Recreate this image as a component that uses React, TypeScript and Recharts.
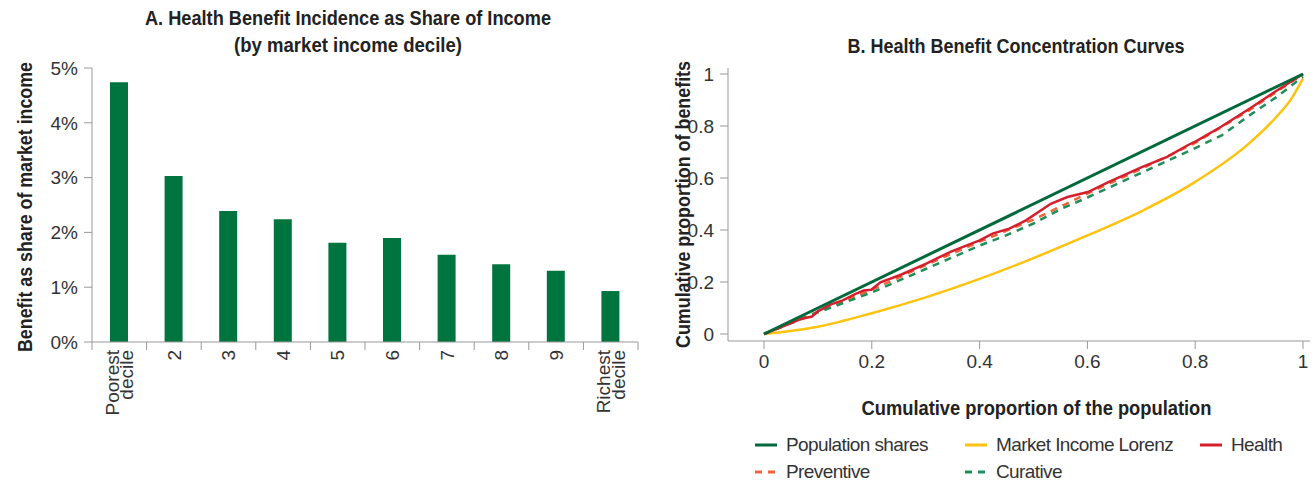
import { BarChart, Bar, LineChart, Line, XAxis, YAxis, Legend } from 'recharts';

const FONT = "'Liberation Sans', Arial, sans-serif";
const BOLD_FONT = "'Liberation Sans', Arial, sans-serif";
const TEXT = '#333';
const DARK = '#222';
const AXIS = '#999';

// Panel A
const deciles = ['Poorest decile', '2', '3', '4', '5', '6', '7', '8', '9', 'Richest decile'];
const benefitShare = [4.74, 3.03, 2.39, 2.24, 1.81, 1.9, 1.59, 1.42, 1.3, 0.93];
const pctTicks = [0, 1, 2, 3, 4, 5];

// Panel B
const propTicks = [0, 0.2, 0.4, 0.6, 0.8, 1];
const popX = [0, 1];
const popY = [0, 1];
const lorenzX = [0, 0.1, 0.2, 0.3, 0.4, 0.5, 0.6, 0.7, 0.8, 0.9, 0.948, 0.98, 1];
const lorenzY = [0, 0.028, 0.08, 0.141, 0.212, 0.292, 0.379, 0.472, 0.585, 0.733, 0.829, 0.91, 0.983];
const healthX = [0, 0.039, 0.069, 0.089, 0.1, 0.123, 0.146, 0.17, 0.185, 0.199, 0.216, 0.254, 0.3, 0.347, 0.4, 0.424, 0.455, 0.486, 0.532, 0.563, 0.601, 0.64, 0.702, 0.748, 0.786, 0.802, 0.848, 0.902, 0.948, 1];
const healthY = [0, 0.032, 0.058, 0.067, 0.087, 0.113, 0.129, 0.154, 0.167, 0.17, 0.199, 0.228, 0.27, 0.317, 0.36, 0.386, 0.405, 0.437, 0.501, 0.527, 0.546, 0.585, 0.643, 0.681, 0.726, 0.742, 0.797, 0.868, 0.932, 1];
const preventiveX = [0, 0.1, 0.2, 0.3, 0.4, 0.5, 0.6, 0.7, 0.8, 0.9, 1];
const preventiveY = [0, 0.086, 0.17, 0.265, 0.355, 0.44, 0.54, 0.635, 0.735, 0.86, 1];
const curativeX = [0, 0.1, 0.2, 0.3, 0.4, 0.45, 0.5, 0.55, 0.6, 0.7, 0.8, 0.85, 0.9, 0.95, 1];
const curativeY = [0, 0.083, 0.16, 0.25, 0.34, 0.38, 0.425, 0.48, 0.525, 0.62, 0.715, 0.765, 0.84, 0.91, 0.99];

const barData = deciles.map((d, i) => ({ decile: d, share: benefitShare[i] }));
const toPts = (xs: number[], ys: number[]) => xs.map((p, i) => ({ p, v: ys[i] }));
const popData = toPts(popX, popY);
const lorenzData = toPts(lorenzX, lorenzY);
const healthData = toPts(healthX, healthY);
const preventiveData = toPts(preventiveX, preventiveY);
const curativeData = toPts(curativeX, curativeY);

const legendItems = [
  { name: 'Population shares', color: '#00693C', dash: false },
  { name: 'Market Income Lorenz', color: '#FDC30F', dash: false },
  { name: 'Health', color: '#D41F2D', dash: false },
  { name: 'Preventive', color: '#F0643C', dash: true },
  { name: 'Curative', color: '#1E8F5B', dash: true },
];

const tickStyle = { fill: TEXT, fontSize: 19, fontFamily: FONT };

function DecileTick({ x, y, payload, index }: any) {
  const half = payload.offset || 27.3;
  const lines = String(payload.value).split(' ');
  const start = 0.35 - ((lines.length - 1) * 0.78) / 2;
  return (
    <g transform={`translate(${x},${y})`}>
      <line x1={-half} x2={-half} y1={0} y2={8} stroke={AXIS} />
      {index === deciles.length - 1 && <line x1={half} x2={half} y1={0} y2={8} stroke={AXIS} />}
      <text transform="rotate(-90)" x={-8} y={0} textAnchor="end" fill={TEXT} fontSize={19} fontFamily={FONT}>
        {lines.map((l, i) => (
          <tspan key={i} x={-8} dy={`${i === 0 ? start : 0.78}em`}>{l}</tspan>
        ))}
      </text>
    </g>
  );
}

function BoldText({ x, y, len, text, rotate }: { x: number; y: number; len: number; text: string; rotate?: boolean }) {
  return (
    <text x={x} y={y} transform={rotate ? `rotate(-90, ${x}, ${y})` : undefined} textAnchor="middle" dominantBaseline="central"
      textLength={len} lengthAdjust="spacingAndGlyphs"
      fill={DARK} fontSize={20} fontWeight="bold" fontFamily={BOLD_FONT}>{text}</text>
  );
}

function LegendBox() {
  return (
    <div style={{ display: 'grid', gridTemplateColumns: '210px 235px 110px', rowGap: 1, fontFamily: FONT, fontSize: 19, color: TEXT }}>
      {legendItems.map((it) => (
        <div key={it.name} style={{ display: 'flex', alignItems: 'center', height: 26 }}>
          <svg width={22} height={4}>
            <line x1={0} x2={22} y1={2} y2={2} stroke={it.color} strokeWidth={3} strokeDasharray={it.dash ? '7 6' : undefined} />
          </svg>
          <span style={{ marginLeft: 9, letterSpacing: -0.6 }}>{it.name}</span>
        </div>
      ))}
    </div>
  );
}

export default function App() {
  return (
    <div style={{ position: 'absolute', left: 0, top: 0, width: 1312, height: 487, background: '#fff', fontFamily: FONT }}>
      <div style={{ position: 'absolute', left: 0, top: 0 }}>
        <BarChart width={660} height={487} data={barData} margin={{ top: 68, right: 22, bottom: 65, left: 0 }}>
          <XAxis dataKey="decile" height={80} interval={0} tickSize={0} tickMargin={0} tickLine={false}
            axisLine={{ stroke: AXIS }} tick={<DecileTick />} />
          <YAxis width={92} domain={[0, 5]} ticks={pctTicks} tickFormatter={(v) => `${v}%`} tickSize={8} tickMargin={6}
            axisLine={{ stroke: AXIS }} tickLine={{ stroke: AXIS }} tick={tickStyle}
            label={{ content: (p: any) => <BoldText x={25} y={p.viewBox.y + p.viewBox.height / 2 + 2} len={290} rotate text="Benefit as share of market income" /> }} />
          <Bar dataKey="share" fill="#00743F" barSize={18} isAnimationActive={false} />
        </BarChart>
      </div>

      <div style={{ position: 'absolute', left: 660, top: 0 }}>
        <LineChart width={652} height={487} margin={{ top: 68, right: 2, bottom: 106, left: 0 }}>
          <XAxis dataKey="p" type="number" domain={[0, 1]} ticks={propTicks} height={40} padding={{ left: 36, right: 7 }}
            tickSize={8} tickMargin={6} axisLine={{ stroke: AXIS }} tickLine={{ stroke: AXIS }} tick={tickStyle}
            allowDuplicatedCategory={false}
            label={{ content: (p: any) => (
              <BoldText x={p.viewBox.x + 36 + (p.viewBox.width - 43) / 2 + 3} y={p.viewBox.y + 67} len={350} text="Cumulative proportion of the population" />
            ) }} />
          <YAxis dataKey="v" type="number" width={68} domain={[0, 1]} ticks={propTicks} padding={{ top: 6, bottom: 7 }}
            tickSize={8} tickMargin={6} axisLine={{ stroke: AXIS }} tickLine={{ stroke: AXIS }} tick={tickStyle}
            label={{ content: (p: any) => <BoldText x={23} y={p.viewBox.y + p.viewBox.height / 2} len={287} rotate text="Cumulative proportion of benefits" /> }} />
          <Legend layout="horizontal" verticalAlign="middle" align="center" wrapperStyle={{ left: 95, top: 432, width: 560 }} content={<LegendBox />} />
          <Line data={lorenzData} dataKey="v" name="Market Income Lorenz" type="monotone" stroke="#FDC30F" strokeWidth={2.5} dot={false} activeDot={false} isAnimationActive={false} />
          <Line data={preventiveData} dataKey="v" name="Preventive" type="linear" stroke="#F0643C" strokeWidth={2.5} strokeDasharray="7 6" dot={false} activeDot={false} isAnimationActive={false} />
          <Line data={curativeData} dataKey="v" name="Curative" type="linear" stroke="#1E8F5B" strokeWidth={2.5} strokeDasharray="7 6" dot={false} activeDot={false} isAnimationActive={false} />
          <Line data={healthData} dataKey="v" name="Health" type="linear" stroke="#D41F2D" strokeWidth={2.5} dot={false} activeDot={false} isAnimationActive={false} />
          <Line data={popData} dataKey="v" name="Population shares" type="linear" stroke="#00693C" strokeWidth={3} dot={false} activeDot={false} isAnimationActive={false} />
        </LineChart>
      </div>

      <svg width={1312} height={70} style={{ position: 'absolute', left: 0, top: 0, pointerEvents: 'none' }}>
        <BoldText x={348} y={18} len={406} text="A. Health Benefit Incidence as Share of Income" />
        <BoldText x={348} y={45} len={228} text="(by market income decile)" />
        <BoldText x={1016} y={46} len={337} text="B. Health Benefit Concentration Curves" />
      </svg>
    </div>
  );
}
